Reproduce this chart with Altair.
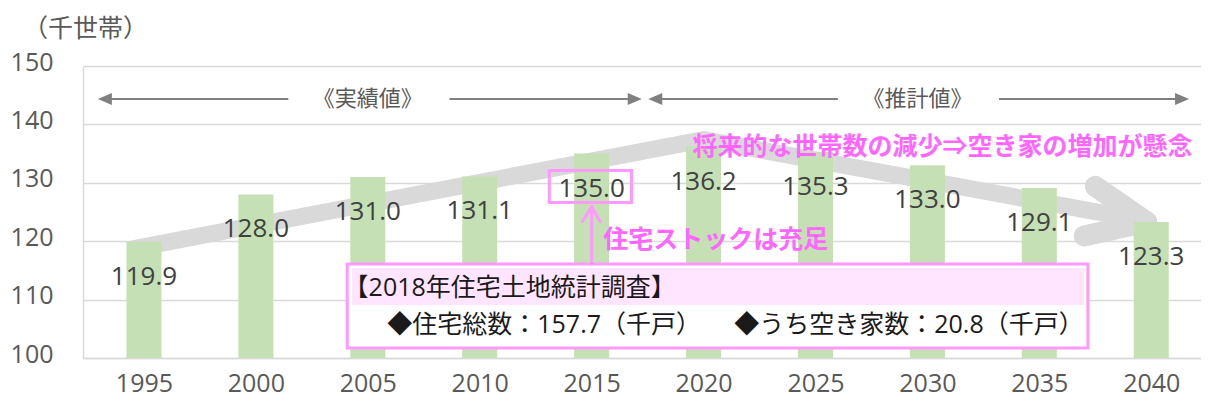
import altair as alt
import pandas as pd

# ---------------- data ----------------
years = [1995, 2000, 2005, 2010, 2015, 2020, 2025, 2030, 2035, 2040]
households = [119.9, 128.0, 131.0, 131.1, 135.0, 136.2, 135.3, 133.0, 129.1, 123.3]

# big grey trend arrow (shaft + head arms), in (year, value) units
trend_years = [1994.5, 2020.0, 2040.0]
trend_values = [118.7, 137.4, 123.3]
head_arm = ["upper", "upper", "lower", "lower"]
head_years = [2037.5, 2039.8, 2037.0, 2039.8]
head_values = [129.4, 123.3, 120.9, 123.3]

# period arrows (実績値 / 推計値)
period_level = 144.35
period_seg = ["a", "a", "b", "b", "c", "c", "d", "d"]
period_years = [1993.2, 2001.45, 2008.65, 2016.95, 2017.8, 2026.0, 2033.2, 2041.4]
period_tips_left = [1992.94, 2017.53]
period_tips_right = [2017.24, 2041.69]
period_texts = ["《実績値》", "《推計値》"]
period_text_years = [2005.0, 2029.56]

# annotation box (2018 survey)
box_years = [2004.08, 2037.17]
box_values = [116.1, 101.7]
band_years = [2004.28, 2037.0]
band_values = [115.41, 109.08]
box_texts = ["【2018年住宅土地統計調査】", "◆住宅総数：157.7（千戸）", "◆うち空き家数：20.8（千戸）"]
box_text_years = [2003.92, 2005.87, 2021.37]
box_text_values = [112.0, 105.65, 105.65]

# pink highlight around 2015 label and arrow
hl_years = [2013.11, 2016.78]
hl_values = [132.1, 126.63]
pink_arrow_seg = ["shaft", "shaft", "l", "l", "r", "r"]
pink_arrow_years = [2015.0, 2015.0, 2014.58, 2015.0, 2015.39, 2015.0]
pink_arrow_values = [116.1, 125.9, 123.34, 125.9, 123.34, 125.9]

pink_texts = ["将来的な世帯数の減少⇒空き家の増加が懸念", "住宅ストックは充足"]
pink_text_years = [2019.51, 2015.52]
pink_text_values = [136.13, 120.2]

# ---------------- tables ----------------
bars_df = pd.DataFrame({"year": years, "value": households})
trend_df = pd.DataFrame({"year": trend_years, "value": trend_values, "o": list(range(len(trend_years)))})
head_df = pd.DataFrame({"year": head_years, "value": head_values, "seg": head_arm, "o": [0, 1, 0, 1]})
period_df = pd.DataFrame({"year": period_years, "value": [period_level] * len(period_years),
                          "seg": period_seg, "o": [0, 1] * 4})
tipl_df = pd.DataFrame({"year": period_tips_left, "value": [period_level] * 2})
tipr_df = pd.DataFrame({"year": period_tips_right, "value": [period_level] * 2})
ptext_df = pd.DataFrame({"year": period_text_years, "value": [period_level] * 2, "t": period_texts})
box_df = pd.DataFrame({"year": [box_years[0]], "year2": [box_years[1]],
                       "value": [box_values[0]], "value2": [box_values[1]]})
band_df = pd.DataFrame({"year": [band_years[0]], "year2": [band_years[1]],
                        "value": [band_values[0]], "value2": [band_values[1]]})
btext_df = pd.DataFrame({"year": box_text_years, "value": box_text_values, "t": box_texts})
hl_df = pd.DataFrame({"year": [hl_years[0]], "year2": [hl_years[1]],
                      "value": [hl_values[0]], "value2": [hl_values[1]]})
parrow_df = pd.DataFrame({"year": pink_arrow_years, "value": pink_arrow_values,
                          "seg": pink_arrow_seg, "o": [0, 1] * 3})
ptxt_df = pd.DataFrame({"year": pink_text_years, "value": pink_text_values, "t": pink_texts})

# ---------------- scales / axes ----------------
GRID = "#D9D9D9"
AXT = "#595959"
NUMFONT = "Open Sans, Noto Sans CJK JP"
JPFONT = "Noto Sans CJK JP"
PINK = "#FF66FF"
PINK_LINE = "#FF99FF"

xscale = alt.Scale(domain=[1992.5, 2042], nice=False, zero=False)
yscale = alt.Scale(domain=[100, 150], nice=False, zero=False)
xaxis = alt.Axis(values=years, format="d", title=None, ticks=False, grid=False,
                 labelFont=NUMFONT, labelFontSize=25, labelColor=AXT, labelPadding=33,
                 labelBaseline="alphabetic",
                 labelFlush=False, labelOverlap=False,
                 domainColor=GRID, domainWidth=1.5)
yaxis = alt.Axis(values=[100, 110, 120, 130, 140, 150], title="（千世帯）", titleAngle=0,
                 titleX=2, titleY=-38, titleAlign="center", titleBaseline="middle",
                 titleFont=JPFONT, titleFontSize=25, titleFontWeight="normal", titleColor=AXT,
                 labelFont=NUMFONT, labelFontSize=25, labelColor=AXT, labelPadding=30,
                 labelOffset=-4, ticks=False, grid=True, gridColor=GRID, gridWidth=1.5,
                 domainColor=GRID, domainWidth=1.5)
X = alt.X("year:Q", scale=xscale, axis=xaxis)
Y = alt.Y("value:Q", scale=yscale, axis=yaxis)

# ---------------- layers ----------------
shaft = alt.Chart(trend_df).mark_line(color="#D9D9D9", strokeWidth=17, strokeJoin="miter",
                                      strokeCap="butt").encode(x=X, y=Y, order="o:Q")
arms = alt.Chart(head_df).mark_line(color="#D9D9D9", strokeWidth=21, strokeCap="round").encode(
    x=X, y=Y, detail="seg:N", order="o:Q")

bars = alt.Chart(bars_df).mark_bar(size=35, color="#C5E0B4").encode(x=X, y=Y, y2=alt.datum(100))
labels = alt.Chart(bars_df).mark_text(dy=35, baseline="middle", font=NUMFONT, fontSize=26,
                                      color="#404040").encode(
    x=X, y=Y, text=alt.Text("value:Q", format=".1f"))

box = alt.Chart(box_df).mark_rect(fill="white", stroke=PINK_LINE, strokeWidth=3).encode(
    x=X, x2="year2:Q", y=Y, y2="value2:Q")
band = alt.Chart(band_df).mark_rect(fill="#FFE5FF").encode(x=X, x2="year2:Q", y=Y, y2="value2:Q")
btext = alt.Chart(btext_df).mark_text(align="left", baseline="middle", font=NUMFONT, fontSize=25,
                                      color="#1A1A1A").encode(x=X, y=Y, text="t:N")

hl = alt.Chart(hl_df).mark_rect(fill="transparent", stroke=PINK_LINE, strokeWidth=3).encode(
    x=X, x2="year2:Q", y=Y, y2="value2:Q")
parrow = alt.Chart(parrow_df).mark_line(color=PINK_LINE, strokeWidth=3, strokeCap="round").encode(
    x=X, y=Y, detail="seg:N", order="o:Q")
ptxt = alt.Chart(ptxt_df).mark_text(align="left", baseline="middle", font=JPFONT, fontSize=25,
                                    fontWeight="bold", color=PINK).encode(x=X, y=Y, text="t:N")

plines = alt.Chart(period_df).mark_line(color="#808080", strokeWidth=2).encode(
    x=X, y=Y, detail="seg:N", order="o:Q")
tipl = alt.Chart(tipl_df).mark_point(shape="M0,0L2,-0.857L2,0.857Z", filled=True, size=196,
                                     color="#808080", opacity=1).encode(x=X, y=Y)
tipr = alt.Chart(tipr_df).mark_point(shape="M0,0L-2,-0.857L-2,0.857Z", filled=True, size=196,
                                     color="#808080", opacity=1).encode(x=X, y=Y)
ptexts = alt.Chart(ptext_df).mark_text(align="center", baseline="middle", font=JPFONT, fontSize=22,
                                       color=AXT).encode(x=X, y=Y, text="t:N")

chart = alt.layer(
    shaft, arms, bars, labels, box, band, btext, hl, parrow, ptxt, plines, tipl, tipr, ptexts
).properties(
    width=1118, height=292,
    autosize=alt.AutoSizeParams(type="none"),
    padding={"left": 75, "top": 58, "right": 0, "bottom": 41},
    background="white",
).configure_view(stroke=None)

chart.save("out.html", embed_options={"renderer": "svg", "actions": False})
